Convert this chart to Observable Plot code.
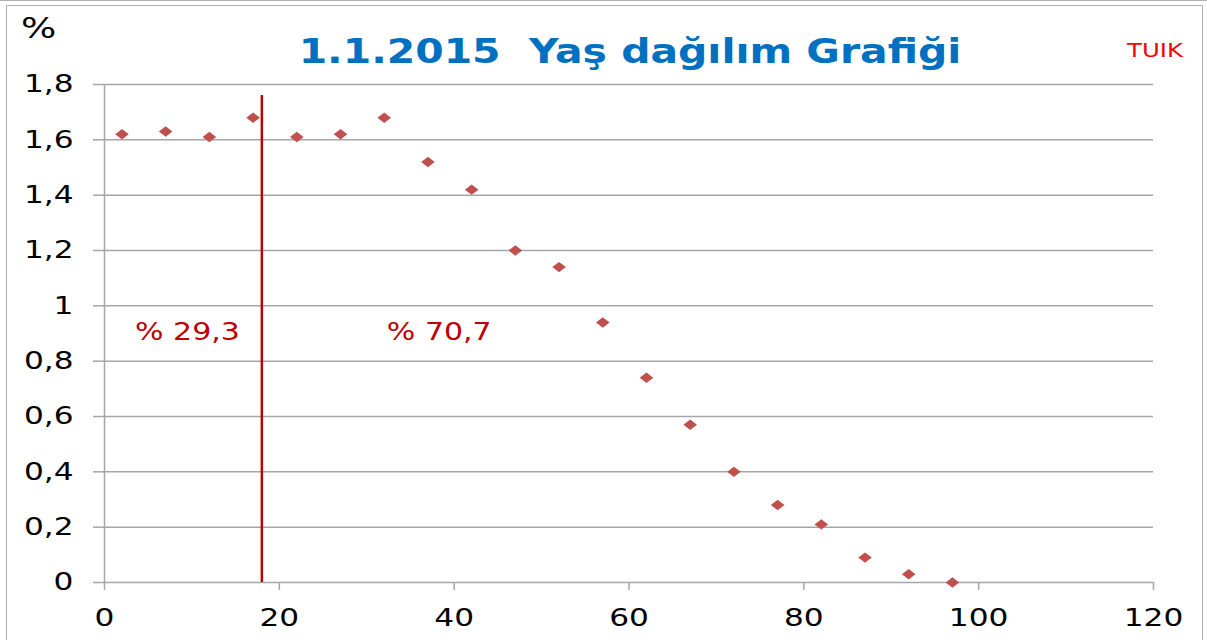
<!DOCTYPE html>
<html>
<head>
<meta charset="utf-8">
<script src="https://cdn.jsdelivr.net/npm/d3@7"></script>
<script src="https://cdn.jsdelivr.net/npm/@observablehq/plot@0.6"></script>
<style>
  html, body { margin: 0; padding: 0; background: #fff; }
  #wrap { position: relative; width: 1207px; height: 640px; overflow: hidden; font-family: "DejaVu Sans", Verdana, sans-serif; }
  #frame { position: absolute; left: 6px; top: 5px; width: 1197px; height: 660px; border: 1.5px solid #b0b0b0; box-sizing: border-box; }
  #topline { position: absolute; left: 0; top: 0; width: 1207px; height: 0; border-top: 1.5px solid #b0b0b0; }
  .lbl { position: absolute; white-space: nowrap; }
  #pct { left: 21px; top: 11px; font-size: 29px; color: #000; transform: scaleX(1.28); transform-origin: 0 0; }
  #title { left: 0; width: 1260px; text-align: center; top: 32px; font-size: 33px; font-weight: bold; color: #0070C0; transform: scaleX(1.24); transform-origin: 630px 0; }
  #tuik { left: 1127px; top: 38px; font-size: 20px; color: #FF0000; transform: scaleX(1.22); transform-origin: 0 0; }
  svg { position: absolute; left: 0; top: 0; }
</style>
</head>
<body>
<div id="wrap">
  <div id="topline"></div>
  <div id="frame"></div>
  <div id="chart"></div>
  <div class="lbl" id="pct">%</div>
  <div class="lbl" id="title">1.1.2015&nbsp; Yaş dağılım Grafiği</div>
  <div class="lbl" id="tuik">TUIK</div>
</div>
<script>
// Age group midpoints (years)
const ages = [2, 7, 12, 17, 22, 27, 32, 37, 42, 47, 52, 57, 62, 67, 72, 77, 82, 87, 92, 97];
// Share of population per single year of age (%)
const shares = [1.62, 1.63, 1.61, 1.68, 1.61, 1.62, 1.68, 1.52, 1.42, 1.20, 1.14, 0.94, 0.74, 0.57, 0.40, 0.28, 0.21, 0.09, 0.03, 0.00];
// Split line at age 18
const splitAge = [18];
const splitTop = 1.76;
// Annotation labels
const noteLabels = ["% 29,3", "% 70,7"];
const noteX = [3.5, 32.3];
const noteY = [0.905, 0.905];
// Axis ticks
const xTicks = [0, 20, 40, 60, 80, 100, 120];
const yTicks = [0, 0.2, 0.4, 0.6, 0.8, 1.0, 1.2, 1.4, 1.6, 1.8];

const points = ages.map((a, i) => ({age: a, share: shares[i]}));
const notes = noteLabels.map((t, i) => ({text: t, x: noteX[i], y: noteY[i]}));
const fmt = d => String(+d.toFixed(1)).replace(".", ",");

const diamond = {
  draw(ctx, size) {
    const w = 6.8, h = 5.2;
    ctx.moveTo(0, -h); ctx.lineTo(w, 0); ctx.lineTo(0, h); ctx.lineTo(-w, 0); ctx.closePath();
  }
};

const gridColor = "#a6a6a6";

const chart = Plot.plot({
  width: 1207,
  height: 640,
  marginLeft: 104,
  marginRight: 54,
  marginTop: 84,
  marginBottom: 58,
  style: {fontFamily: "'DejaVu Sans', Verdana, sans-serif", fontSize: "24px", background: "transparent", overflow: "visible"},
  x: {domain: [0, 120]},
  y: {domain: [0, 1.8]},
  marks: [
    Plot.gridY(yTicks, {stroke: gridColor, strokeOpacity: 1, strokeWidth: 1.5}),
    Plot.ruleX([0], {y1: 0, y2: 1.8, stroke: gridColor, strokeWidth: 1.5}),
    Plot.axisY(yTicks, {tickSize: 11, tickPadding: 20, tickFormat: fmt, stroke: gridColor, strokeWidth: 1.5, fill: "#000", label: null, fontSize: 24}),
    Plot.axisX(xTicks, {tickSize: 8, tickPadding: 18, tickFormat: d => String(d), stroke: gridColor, strokeWidth: 1.5, fill: "#000", label: null, fontSize: 24}),
    Plot.ruleX(splitAge, {y1: 0, y2: splitTop, stroke: "#C00000", strokeWidth: 2.5}),
    Plot.dot(points, {x: "age", y: "share", symbol: diamond, fill: "#C0504D", stroke: "none", r: 5}),
    Plot.text(notes, {x: "x", y: "y", text: "text", textAnchor: "start", fill: "#C00000", fontSize: 24})
  ]
});
document.getElementById("chart").appendChild(chart);
// widen glyphs horizontally, as in the reference picture (anchor kept in place)
chart.querySelectorAll("text").forEach(el => {
  const len = el.getComputedTextLength();
  if (len > 0) {
    const k = noteLabels.includes(el.textContent) ? 1.25 : 1.3;
    el.setAttribute("textLength", (len * k).toFixed(1));
    el.setAttribute("lengthAdjust", "spacingAndGlyphs");
  }
});
</script>
</body>
</html>
